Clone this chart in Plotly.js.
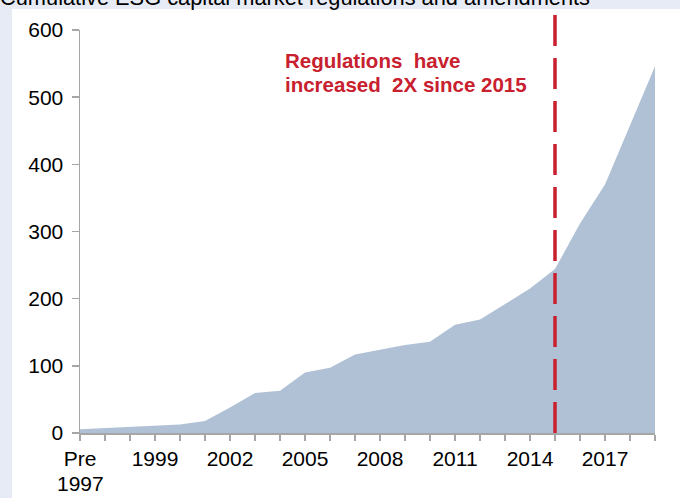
<!DOCTYPE html>
<html>
<head>
<meta charset="utf-8">
<script src="https://cdn.plot.ly/plotly-3.0.1.min.js"></script>
<style>
  html, body { margin: 0; padding: 0; background: #e7ebf5; }
  #chart { width: 680px; height: 498px; }
</style>
</head>
<body>
<div id="chart"></div>
<script>
// ---- Data ----
const categories = ["Pre 1997","1997","1998","1999","2000","2001","2002","2003","2004","2005","2006","2007",
                    "2008","2009","2010","2011","2012","2013","2014","2015","2016","2017","2018","2019"];
const regulations = [5.5, 7, 8.5, 10.5, 12.5, 18, 38, 59.5, 63, 90, 97, 117,
                     124, 131, 136, 161, 169, 192, 215, 244, 312, 370, 458, 546];
const tickLabels = ["Pre","","","1999","","","2002","","","2005","","",
                    "2008","","","2011","","","2014","","","2017","",""];
const firstLabelLine2 = "1997";
const markerYear = "2015";
const titleText = "Cumulative ESG capital market regulations and amendments";
const noteLine1 = "Regulations\u00a0 have";
const noteLine2 = "increased\u00a0 2X since 2015";

// ---- Layout geometry (pixels) ----
const W = 680, H = 498;
const L = 80, R = 25, T = 30, B = 65;
const pw = W - L - R, ph = H - T - B;
const px = x => (x - L) / pw;          // pixel x -> paper x
const py = y => (H - B - y) / ph;      // pixel y -> paper y

const font = "Arial, 'Liberation Sans', Helvetica, sans-serif";
const red = "#c8202e";
const axisGrey = "#a6a6a6";
const markerIndex = categories.indexOf(markerYear);

const trace = {
  type: "scatter",
  x: categories,
  y: regulations,
  mode: "lines",
  line: { width: 0, color: "#b0c1d6" },
  fill: "tozeroy",
  fillcolor: "#b0c1d6",
  hoverinfo: "skip"
};

const layout = {
  width: W, height: H,
  margin: { l: L, r: R, t: T, b: B, pad: 0 },
  paper_bgcolor: "#e7ebf5",
  plot_bgcolor: "#ffffff",
  showlegend: false,
  font: { family: font, size: 21, color: "#000000" },
  xaxis: {
    type: "category",
    range: [0, categories.length - 1],
    tickmode: "array",
    tickvals: categories,
    ticktext: tickLabels,
    ticks: "outside", ticklen: 6, tickwidth: 1.5, tickcolor: axisGrey,
    showline: true, linecolor: axisGrey, linewidth: 1.5,
    showgrid: false, zeroline: false,
    tickfont: { family: font, size: 21, color: "#000" },
    fixedrange: true
  },
  yaxis: {
    range: [0, 600],
    tickmode: "linear", tick0: 0, dtick: 100,
    ticks: "outside", ticklen: 7, tickwidth: 1.5, tickcolor: axisGrey,
    showline: true, linecolor: axisGrey, linewidth: 1.5,
    showgrid: false, zeroline: false,
    tickfont: { family: font, size: 21, color: "#000" },
    ticklabelstandoff: 4,
    fixedrange: true
  },
  shapes: [
    { type: "rect", xref: "paper", yref: "paper", layer: "below",
      x0: px(12), x1: px(W + 5), y0: py(9), y1: py(H + 5),
      fillcolor: "#ffffff", line: { width: 0 } },
    { type: "line", xref: "x", yref: "paper", layer: "above",
      x0: markerIndex, x1: markerIndex, y0: py(15), y1: py(433),
      line: { color: red, width: 3.5, dash: "31px,12px" } }
  ],
  annotations: [
    { text: titleText, xref: "paper", yref: "paper",
      x: px(-2), y: py(-2.5), xanchor: "left", yanchor: "middle",
      showarrow: false, font: { family: font, size: 21.8, color: "#000" } },
    { text: firstLabelLine2, xref: "x", yref: "paper",
      x: 0, y: py(483), xanchor: "center", yanchor: "middle",
      showarrow: false, font: { family: font, size: 21, color: "#000" } },
    { text: "<b>" + noteLine1 + "</b>", xref: "paper", yref: "paper",
      x: px(283), y: py(61), xanchor: "left", yanchor: "middle",
      showarrow: false, font: { family: font, size: 20.5, color: red } },
    { text: "<b>" + noteLine2 + "</b>", xref: "paper", yref: "paper",
      x: px(283), y: py(84), xanchor: "left", yanchor: "middle",
      showarrow: false, font: { family: font, size: 20.5, color: red } }
  ]
};

Plotly.newPlot("chart", [trace], layout, { displayModeBar: false, staticPlot: true });
</script>
</body>
</html>
